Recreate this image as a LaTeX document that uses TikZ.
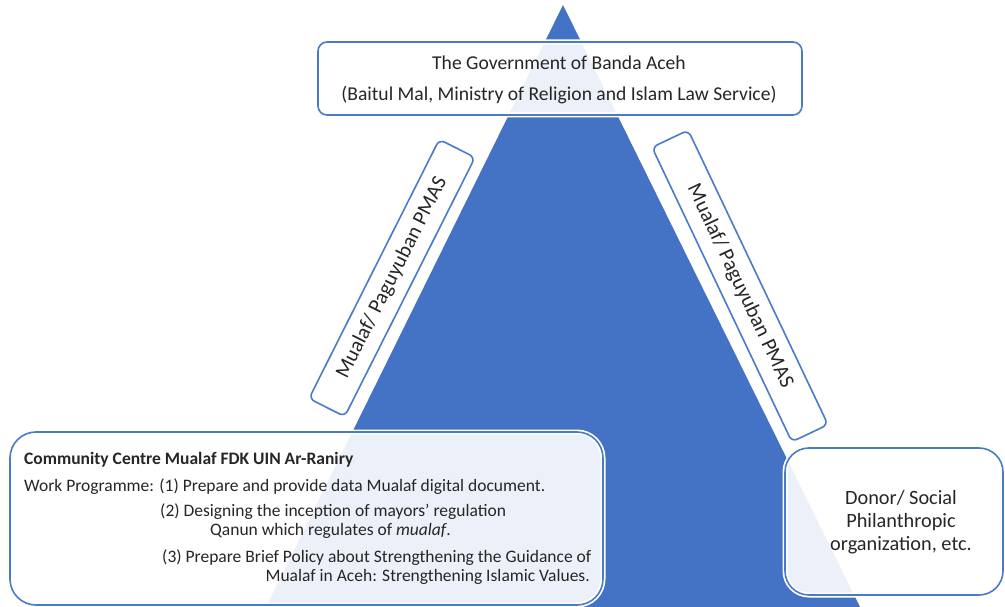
\documentclass[tikz,border=0pt]{standalone}
\usepackage{fontspec}
\setmainfont{Carlito}
\definecolor{tri}{HTML}{4472C4}
\definecolor{bord}{HTML}{4A7BCA}
\begin{document}
\begin{tikzpicture}[x=1pt,y=-1pt,
  box/.style={draw=bord, line width=1.6pt, fill=white, fill opacity=0.9, text opacity=1,
    preaction={draw=white, line width=5pt, draw opacity=1}},
  txt/.style={font=\fontsize{#1}{#1}\selectfont, inner sep=0pt, text=black!85},
  txt/.default=17.5]
\useasboundingbox (0,0) rectangle (1005,607);
\coordinate (apex) at (563,5);
\coordinate (bl) at (266,607);
\coordinate (br) at (860,607);
\fill[tri] (apex) -- (bl) -- (br) -- cycle;

% top box
\node[box, rounded corners=9pt, minimum width=484pt, minimum height=73pt] (gov) at (560,78.5) {};
\node[txt=19.6] (gov1) at (559,63) {The Government of Banda Aceh};
\node[txt=19.6] (gov2) at (559,95) {(Baitul Mal, Ministry of Religion and Islam Law Service)};

% tilted boxes
\node[box, rounded corners=6pt, minimum width=290pt, minimum height=40pt, rotate=63.3,
  font=\fontsize{21}{21}\selectfont, text=black!85] (pl) at (392,278) {Mualaf/ Paguyuban PMAS};
\node[box, rounded corners=6pt, minimum width=326pt, minimum height=40pt, rotate=-64.6,
  font=\fontsize{21}{21}\selectfont, text=black!85] (pr) at (740,286) {Mualaf/ Paguyuban PMAS};

% bottom left box
\node[box, rounded corners=26pt, minimum width=593pt, minimum height=173pt] (cc) at (306.5,518.5) {};
\node[txt, anchor=west, font=\fontsize{17.5}{17.5}\selectfont\bfseries] (cc0) at (24,460) {Community Centre Mualaf FDK UIN Ar-Raniry};
\node[txt, anchor=west] (cc1) at (24,487) {Work Programme: (1) Prepare and provide data Mualaf digital document.};
\node[txt, anchor=west] (cc2) at (160,512) {(2) Designing the inception of mayors\symbol{"27} regulation};
\node[txt, anchor=west] (cc3) at (210,531) {Qanun which regulates of \textit{mualaf}.};
\node[txt, anchor=west] (cc4) at (162,558) {(3) Prepare Brief Policy about Strengthening the Guidance of};
\node[txt, anchor=east] (cc5) at (590,577) {Mualaf in Aceh: Strengthening Islamic Values.};

% right box
\node[box, rounded corners=24pt, minimum width=218pt, minimum height=147pt] (don) at (894,521.5) {};
\node[txt=20.3, align=center, font=\fontsize{20.3}{23}\selectfont] (don1) at (901,522) {Donor/ Social\\Philanthropic\\organization, etc.};
\end{tikzpicture}
\end{document}
